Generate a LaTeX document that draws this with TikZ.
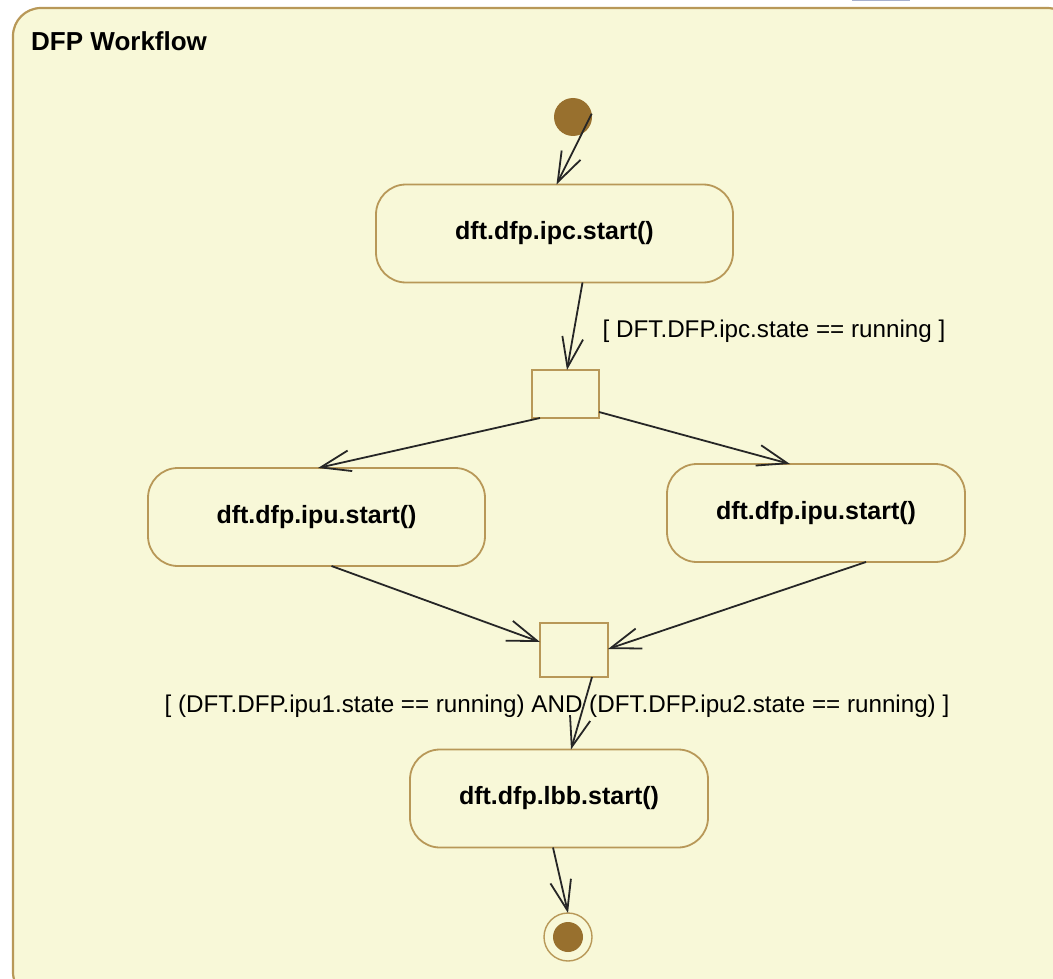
\documentclass[tikz,border=0pt]{standalone}
\usepackage{fontspec}
\setmainfont{Liberation Sans}
\usetikzlibrary{arrows.meta,calc}
\definecolor{umlfill}{RGB}{248,248,216}
\definecolor{umlline}{RGB}{184,152,88}
\definecolor{umldot}{RGB}{152,112,46}
\definecolor{umlblue}{RGB}{166,176,206}
\begin{document}
\begin{tikzpicture}[x=1pt,y=-1pt,
		action/.style={draw=umlline,line width=1.8pt,fill=umlfill,rounded corners=30pt,
			minimum height=98pt,inner sep=0pt,outer sep=0pt,
			font=\fontsize{25}{29}\selectfont\bfseries},
		bar/.style={draw=umlline,line width=1.8pt,fill=umlfill,inner sep=0pt,outer sep=0pt},
		guard/.style={inner sep=0pt,font=\fontsize{24.2}{28}\selectfont},
		flow/.style={draw=black!85,line width=1.8pt,
			-{Straight Barb[length=30pt,width=21pt,line width=1.8pt]}}]
				\useasboundingbox (0,0) rectangle (1053,979);
				\clip (0,0) rectangle (1053,979);
				\fill[umlblue] (852,-2) rectangle (910,1.5);
				\draw[umlline,line width=2.2pt,fill=umlfill,rounded corners=28pt] (13,8) rectangle (1075,1000);
				\node[anchor=west,inner sep=0pt,font=\fontsize{26}{30}\selectfont\bfseries] (title) at (31,41) {DFP Workflow};
				\node[circle,fill=umldot,minimum size=38pt,inner sep=0pt,outer sep=0pt] (init) at (573,117) {};
				\node[action,minimum width=357pt] (ipc) at (554.5,233.5) {dft.dfp.ipc.start()};
				\node[bar,minimum width=67pt,minimum height=48pt] (fork) at (565.5,394) {};
				\node[action,minimum width=337pt] (ipu1) at (316.5,517) {dft.dfp.ipu.start()};
				\node[action,minimum width=298pt] (ipu2) at (816,513) {dft.dfp.ipu.start()};
				\node[bar,minimum width=68pt,minimum height=54pt] (join) at (574,650) {};
				\node[action,minimum width=298pt] (lbb) at (559,798.5) {dft.dfp.lbb.start()};
				\node[circle,draw=umlline,line width=1.4pt,fill=umlfill,minimum size=48pt,inner sep=0pt,outer sep=0pt] (fin) at (568,937) {};
				\fill[umldot] (fin.center) circle (15pt);
				\node[guard] (g1) at (774,331) {[ DFT.DFP.ipc.state == running ]};
				\node[guard] (g2) at (557,706) {[ (DFT.DFP.ipu1.state == running) AND (DFT.DFP.ipu2.state == running) ]};
				\draw[flow] (init.10) -- ([xshift=2pt]ipc.north);
				\draw[flow] ([xshift=28pt]ipc.south) -- ([xshift=1.5pt]fork.north);
				\draw[flow] ([xshift=8pt]fork.south west) -- ([xshift=1.5pt]ipu1.north);
				\draw[flow] ([yshift=6pt]fork.south east) -- ([xshift=-26pt]ipu2.north);
				\draw[flow] ([xshift=15pt]ipu1.south) -- ([yshift=8pt]join.west);
				\draw[flow] ([xshift=50pt]ipu2.south) -- ([yshift=1pt]join.east);
				\draw[flow] ([xshift=18pt]join.south) -- ([xshift=12pt]lbb.north);
				\draw[flow] ([xshift=-6pt]lbb.south) -- (fin.north);
\end{tikzpicture}
\end{document}
